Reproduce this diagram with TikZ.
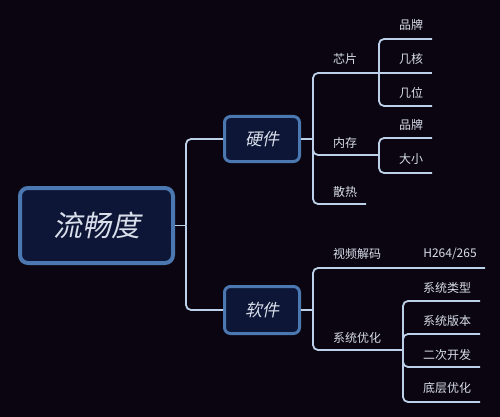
\documentclass[tikz,border=0pt]{standalone}
\usepackage{fontspec}
\newfontfamily\cjk{Noto Sans CJK SC}
\newfontfamily\cjkit{Noto Sans CJK SC}[FakeSlant=0.2]
\definecolor{bgc}{HTML}{0A0510}
\definecolor{linec}{HTML}{BCD0EA}
\definecolor{txtc}{HTML}{D8DEEA}
\definecolor{boxb}{HTML}{4C78B2}
\definecolor{boxf}{HTML}{0D1636}
\begin{document}
\begin{tikzpicture}[x=1pt,y=-1pt,
  conn/.style={draw=linec, line width=1.8pt, rounded corners=5pt},
  lbl/.style={text=txtc, font=\cjk\fontsize{12}{14}\selectfont, inner sep=0pt},
  box/.style={draw=boxb, fill=boxf, rounded corners=6pt, line width=3pt, text=txtc, inner sep=0pt}]
\fill[bgc] (0,0) rectangle (500,417);
\useasboundingbox (0,0) rectangle (500,417);
% main boxes
\node[box, line width=4pt, rounded corners=8pt, minimum width=153pt, minimum height=75pt, font=\cjkit\fontsize{29}{32}\selectfont] (root) at (96.5,225.5) {流畅度};
\node[box, minimum width=75pt, minimum height=45pt, font=\cjkit\fontsize{17}{20}\selectfont] (hw) at (262,139) {硬件};
\node[box, minimum width=75pt, minimum height=47pt, font=\cjkit\fontsize{17}{20}\selectfont] (sw) at (262,310) {软件};
% junctions
\coordinate (j0) at (186,225.5);
\coordinate (hj) at (313,139);
\coordinate (sj) at (313,310);
\coordinate (chipj) at (379,73);
\coordinate (memj) at (379,155);
\coordinate (heatE) at (366,204);
\coordinate (c1E) at (432,39);
\coordinate (c2E) at (432,73);
\coordinate (c3E) at (432,106);
\coordinate (m1E) at (432,138);
\coordinate (m2E) at (432,173);
\coordinate (vidE) at (485,268);
\coordinate (sysj) at (403,350);
\coordinate (s1E) at (480,301);
\coordinate (s2E) at (480,334);
\coordinate (s3E) at (480,367);
\coordinate (s4E) at (480,402);
% labels
\node[lbl] (chip) at (345,59) {芯片};
\node[lbl] (mem) at (345,143) {内存};
\node[lbl] (heat) at (345,192) {散热};
\node[lbl] (c1) at (411,25) {品牌};
\node[lbl] (c2) at (411,59) {几核};
\node[lbl] (c3) at (411,93) {几位};
\node[lbl] (m1) at (411,125) {品牌};
\node[lbl] (m2) at (411,159) {大小};
\node[lbl] (vid) at (357,254) {视频解码};
\node[lbl] (h264) at (450,254) {H264/265};
\node[lbl] (sys) at (357,338) {系统优化};
\node[lbl] (s1) at (447,288) {系统类型};
\node[lbl] (s2) at (447,321) {系统版本};
\node[lbl] (s3) at (447,355) {二次开发};
\node[lbl] (s4) at (447,388) {底层优化};
% connectors
\draw[conn] (root.east) -- (j0);
\draw[conn] (hw.west) -| (j0);
\draw[conn] (sw.west) -| (j0);
\draw[conn] (hw.east) -- (hj);
\draw[conn] (hj) |- (chipj);
\draw[conn] (hj) |- (memj);
\draw[conn] (hj) |- (heatE);
\draw[conn] (chipj) -- (c2E);
\draw[conn] (chipj) |- (c1E);
\draw[conn] (chipj) |- (c3E);
\draw[conn] (memj) |- (m1E);
\draw[conn] (memj) |- (m2E);
\draw[conn] (sw.east) -- (sj);
\draw[conn] (sj) |- (vidE);
\draw[conn] (sj) |- (sysj);
\draw[conn] (sysj) |- (s1E);
\draw[conn] (sysj) |- (s2E);
\draw[conn] (sysj) |- (s3E);
\draw[conn] (sysj) |- (s4E);
\end{tikzpicture}
\end{document}
